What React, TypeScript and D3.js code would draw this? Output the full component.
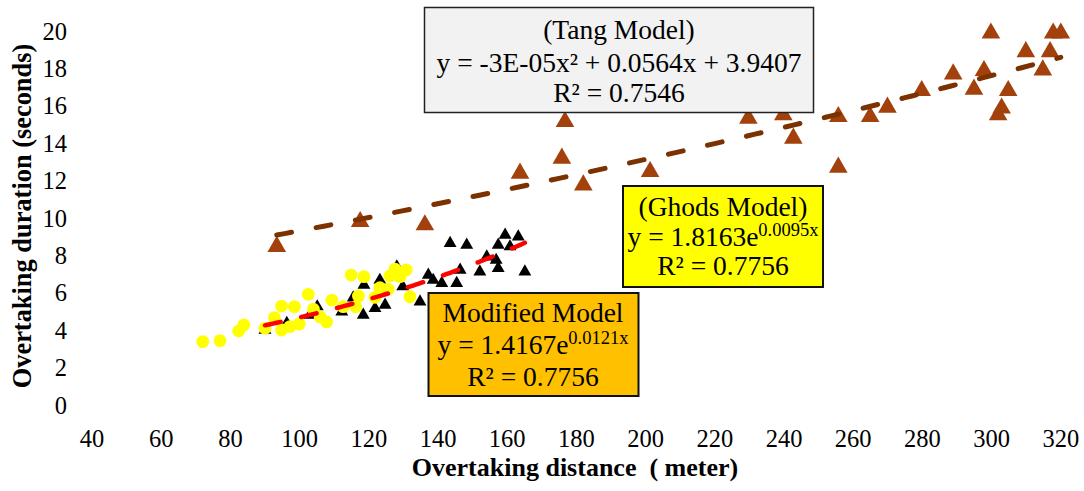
import React from "react";
import * as d3 from "d3";

// ---- Data ----
const tangX = [93.4, 117.5, 136.2, 163.7, 175.8, 176.7, 182.0, 201.3, 229.7, 239.8, 242.7, 255.7, 255.7, 264.9, 269.9, 279.8, 288.9, 294.9, 297.8, 299.8, 301.9, 302.9, 304.8, 309.9, 314.8, 316.9, 317.8, 320.0];
const tangY = [8.47, 9.80, 9.63, 12.39, 13.19, 15.15, 11.76, 12.48, 15.33, 15.51, 14.26, 15.42, 12.71, 15.42, 15.92, 16.81, 17.70, 16.88, 17.88, 19.88, 15.51, 15.87, 16.81, 18.89, 17.91, 18.89, 19.88, 19.88];

const blackX = [90.0, 96.3, 103.0, 105.1, 112.2, 115.5, 118.4, 118.6, 121.8, 123.2, 124.7, 128.1, 129.8, 134.8, 137.2, 138.6, 141.1, 145.4, 146.4, 143.5, 148.3, 152.1, 154.1, 156.8, 157.4, 157.4, 159.4, 160.8, 163.2, 165.1];
const blackY = [4.01, 4.37, 4.81, 5.26, 4.99, 5.74, 4.81, 6.42, 5.17, 6.68, 5.35, 7.40, 6.33, 5.52, 6.95, 6.68, 6.51, 6.51, 7.22, 8.65, 8.56, 7.13, 7.93, 7.75, 7.31, 8.56, 9.09, 8.47, 9.0, 7.13];

const yellowX = [72.0, 77.0, 82.4, 83.9, 90.0, 92.7, 94.8, 94.8, 97.2, 98.5, 99.9, 102.5, 104.0, 105.9, 107.8, 109.3, 112.6, 114.9, 116.2, 117.0, 118.6, 121.8, 123.2, 125.6, 126.1, 127.6, 129.0, 130.8, 131.9];
const yellowY = [3.39, 3.44, 3.96, 4.28, 4.10, 4.67, 4.01, 5.29, 4.19, 5.26, 4.33, 5.92, 5.12, 4.72, 4.44, 5.61, 5.26, 6.95, 5.26, 5.83, 6.86, 5.76, 6.27, 6.19, 6.90, 7.27, 6.86, 7.22, 5.79];

const xTicks = [40, 60, 80, 100, 120, 140, 160, 180, 200, 220, 240, 260, 280, 300, 320];
const yTicks = [0, 2, 4, 6, 8, 10, 12, 14, 16, 18, 20];

const tangLines = ["(Tang Model)", "y = -3E-05x² + 0.0564x + 3.9407", "R² = 0.7546"];
const ghodsLines = ["(Ghods Model)", "y = 1.8163e", "0.0095x", "R² = 0.7756"];
const modLines = ["Modified Model", "y = 1.4167e", "0.0121x", "R² = 0.7756"];

// ---- Fits ----
function quadFit(xs: number[], ys: number[]) {
  const S = (f: (x: number, y: number) => number) => xs.reduce((s, x, i) => s + f(x, ys[i]), 0);
  const n = xs.length;
  const sx = S((x) => x), sx2 = S((x) => x * x), sx3 = S((x) => x ** 3), sx4 = S((x) => x ** 4);
  const sy = S((x, y) => y), sxy = S((x, y) => x * y), sx2y = S((x, y) => x * x * y);
  const M = [
    [sx4, sx3, sx2, sx2y],
    [sx3, sx2, sx, sxy],
    [sx2, sx, n, sy],
  ];
  for (let i = 0; i < 3; i++) {
    for (let k = i + 1; k < 3; k++) {
      const f = M[k][i] / M[i][i];
      for (let j = i; j < 4; j++) M[k][j] -= f * M[i][j];
    }
  }
  const r = [0, 0, 0];
  for (let i = 2; i >= 0; i--) {
    let s = M[i][3];
    for (let j = i + 1; j < 3; j++) s -= M[i][j] * r[j];
    r[i] = s / M[i][i];
  }
  return (x: number) => r[0] * x * x + r[1] * x + r[2];
}
function expFit(xs: number[], ys: number[]) {
  const ly = ys.map(Math.log);
  const mx = d3.mean(xs)!, my = d3.mean(ly)!;
  let num = 0, den = 0;
  xs.forEach((x, i) => { num += (x - mx) * (ly[i] - my); den += (x - mx) ** 2; });
  const b = num / den;
  const a = Math.exp(my - b * mx);
  return (x: number) => a * Math.exp(b * x);
}

const W = 1084, H = 491;
const x = d3.scaleLinear().domain([40, 320]).range([92, 1060.8]);
const y = d3.scaleLinear().domain([0, 20]).range([405, 31]);

const FONT = "Liberation Serif, Times New Roman, Times, serif";
const tStyle: React.CSSProperties = { fontFamily: FONT };
const BOX_FS = 27.5;
const SUP_FS = 18.5;
const TICK_FS = 24.5;

export default function App() {
  const tangF = quadFit(tangX, tangY);
  const expF = expFit(blackX, blackY);
  const line = d3.line<number[]>().x((d) => x(d[0])).y((d) => y(d[1]));
  const tangPts = d3.range(0, 101).map((i) => {
    const xv = d3.min(tangX)! + (i / 100) * (d3.max(tangX)! - d3.min(tangX)!);
    return [xv, tangF(xv)];
  });
  const redPts = d3.range(0, 101).map((i) => {
    const xv = d3.min(blackX)! + (i / 100) * (d3.max(blackX)! - d3.min(blackX)!);
    return [xv, expF(xv)];
  });
  const triBig = d3.symbol(d3.symbolTriangle, 150)()!;
  const triSmall = d3.symbol(d3.symbolTriangle, 72)()!;

  return (
    <svg width={W} height={H} style={{ position: "absolute", left: 0, top: 0, background: "#fff", fontFamily: FONT }}>
      {/* y tick labels */}
      {yTicks.map((t) => (
        <text key={"y" + t} style={tStyle} x={67} y={y(t)} dy="0.35em" textAnchor="end" fontSize={TICK_FS} fill="#000">{t}</text>
      ))}
      {/* x tick labels */}
      {xTicks.map((t) => (
        <text key={"x" + t} style={tStyle} x={x(t)} y={447} textAnchor="middle" fontSize={TICK_FS} fill="#000">{t}</text>
      ))}
      {/* axis titles */}
      <text x={575} y={476} textAnchor="middle" fontSize={26} fontWeight="bold" style={{ whiteSpace: "pre", fontFamily: FONT }}>Overtaking distance  ( meter)</text>
      <text style={tStyle} transform={`translate(31,216) rotate(-90)`} textAnchor="middle" fontSize={26.4} fontWeight="bold">Overtaking duration (seconds)</text>

      {/* brown triangles */}
      {tangX.map((v, i) => (
        <path key={"t" + i} d={triBig} transform={`translate(${x(v)},${y(tangY[i])})`} fill="#A3410C" />
      ))}
      {/* black triangles */}
      {blackX.map((v, i) => (
        <path key={"b" + i} d={triSmall} transform={`translate(${x(v)},${y(blackY[i])})`} fill="#000" />
      ))}
      {/* yellow dots */}
      {yellowX.map((v, i) => (
        <circle key={"c" + i} cx={x(v)} cy={y(yellowY[i])} r={6.4} fill="#FFFF00" />
      ))}
      {/* trend lines */}
      <path d={line(tangPts)!} fill="none" stroke="#7B3200" strokeWidth={5} strokeDasharray="15 25" strokeLinecap="round" />
      <path d={line(redPts)!} fill="none" stroke="#FF0000" strokeWidth={4.5} strokeDasharray="16 21" strokeLinecap="round" />

      {/* Tang box */}
      <rect x={424.5} y={7.5} width={389} height={105} fill="#F2F2F2" stroke="#222" strokeWidth={1.5} />
      <text style={tStyle} x={619} y={39} textAnchor="middle" fontSize={BOX_FS}>{tangLines[0]}</text>
      <text style={tStyle} x={619} y={72} textAnchor="middle" fontSize={BOX_FS}>{tangLines[1]}</text>
      <text style={tStyle} x={619} y={102} textAnchor="middle" fontSize={BOX_FS}>{tangLines[2]}</text>

      {/* Ghods box */}
      <rect x={623} y={186} width={200} height={101} fill="#FFFF00" stroke="#111" strokeWidth={2} />
      <text style={tStyle} x={723} y={216} textAnchor="middle" fontSize={BOX_FS}>{ghodsLines[0]}</text>
      <text style={tStyle} x={723} y={246} textAnchor="middle" fontSize={BOX_FS}>
        {ghodsLines[1]}
        <tspan fontSize={SUP_FS} dy={-10}>{ghodsLines[2]}</tspan>
      </text>
      <text style={tStyle} x={723} y={275} textAnchor="middle" fontSize={BOX_FS}>{ghodsLines[3]}</text>

      {/* Modified box */}
      <rect x={428.5} y={293} width={210} height={103} fill="#FFC000" stroke="#111" strokeWidth={2} />
      <text style={tStyle} x={533} y={322} textAnchor="middle" fontSize={BOX_FS}>{modLines[0]}</text>
      <text style={tStyle} x={533} y={354} textAnchor="middle" fontSize={BOX_FS}>
        {modLines[1]}
        <tspan fontSize={SUP_FS} dy={-10}>{modLines[2]}</tspan>
      </text>
      <text style={tStyle} x={533} y={386} textAnchor="middle" fontSize={BOX_FS}>{modLines[3]}</text>
    </svg>
  );
}
